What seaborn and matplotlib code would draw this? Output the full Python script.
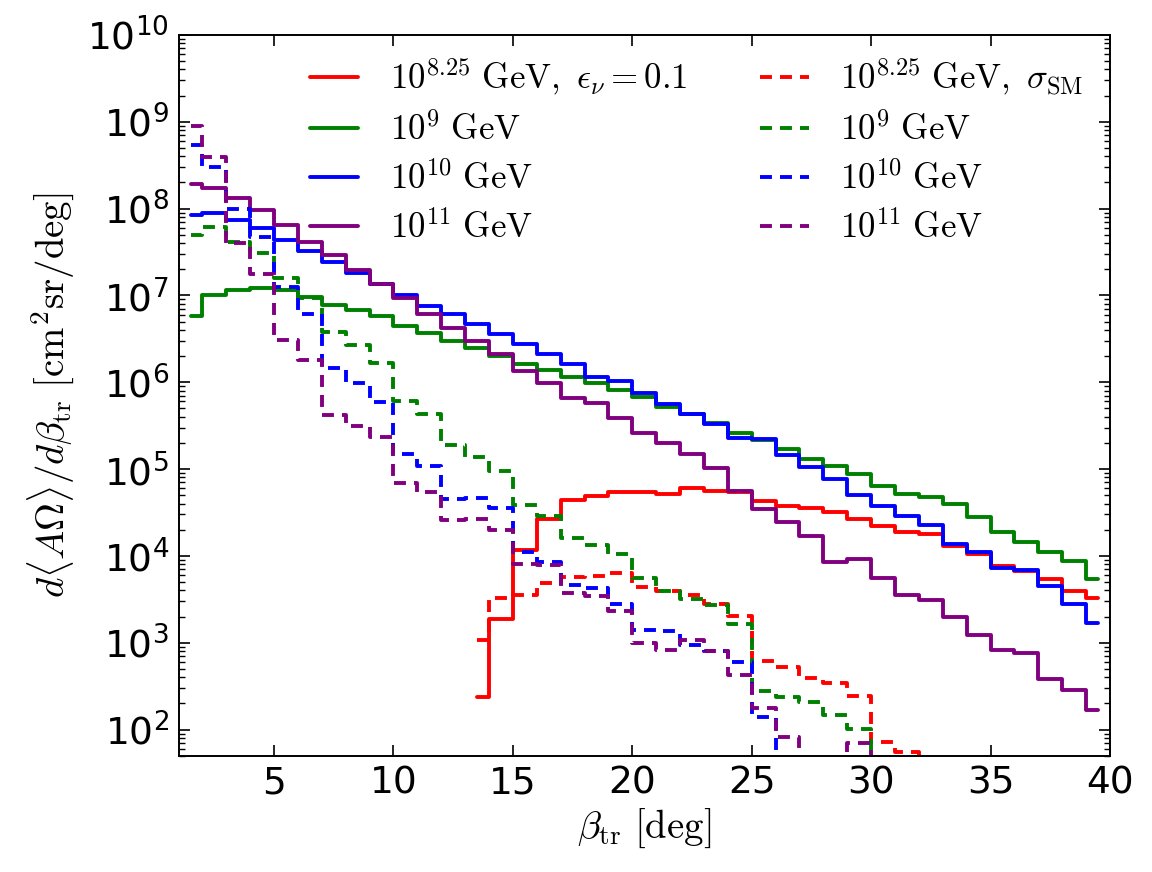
import numpy as np
import matplotlib
matplotlib.use("Agg")
import matplotlib.pyplot as plt
import seaborn as sns
from matplotlib.ticker import FuncFormatter, FixedLocator, MultipleLocator, NullFormatter

# bin centres (deg); each curve is drawn as a mid-step histogram
centers = np.arange(1.5, 40.0, 1.0)

# values, as log10 of d<AΩ>/dβ  (1.3 = below the axis)
# solid: epsilon_nu = 0.1 (first bin of red is at 13.5)
red_solid = [2.38, 3.27, 4.07, 4.42, 4.64, 4.69, 4.73, 4.74, 4.71, 4.78, 4.75, 4.74, 4.63,
             4.57, 4.55, 4.50, 4.43, 4.34, 4.28, 4.25, 4.11, 4.02, 3.88, 3.83, 3.73, 3.60, 3.51]
green_solid = [6.76, 7.01, 7.06, 7.08, 7.06, 6.98, 6.89, 6.83, 6.76, 6.65, 6.57, 6.48, 6.39,
               6.30, 6.21, 6.14, 6.06, 5.99, 5.91, 5.83, 5.72, 5.63, 5.53, 5.42, 5.34, 5.23,
               5.12, 5.04, 4.94, 4.80, 4.71, 4.68, 4.60, 4.45, 4.27, 4.16, 4.04, 3.94, 3.73]
blue_solid = [7.93, 7.95, 7.87, 7.78, 7.64, 7.51, 7.38, 7.26, 7.13, 7.00, 6.88, 6.78, 6.67,
              6.55, 6.44, 6.32, 6.21, 6.06, 6.01, 5.88, 5.75, 5.63, 5.52, 5.36, 5.35, 5.16,
              5.02, 4.89, 4.70, 4.58, 4.46, 4.36, 4.14, 4.04, 3.86, 3.84, 3.65, 3.44, 3.23]
purple_solid = [8.28, 8.24, 8.12, 7.98, 7.81, 7.62, 7.46, 7.29, 7.13, 6.97, 6.79, 6.63, 6.48,
                6.33, 6.13, 5.99, 5.82, 5.76, 5.59, 5.42, 5.30, 5.17, 5.01, 4.75, 4.54, 4.39,
                4.23, 3.93, 3.96, 3.75, 3.55, 3.49, 3.30, 3.09, 2.92, 2.88, 2.58, 2.46, 2.22]

# dashed: sigma_SM (first bin of red is at 13.5)
red_dashed = [3.03, 3.52, 3.55, 3.69, 3.76, 3.77, 3.80, 3.64, 3.59, 3.55, 3.45, 3.31, 2.79,
              2.72, 2.59, 2.54, 2.39, 1.86, 1.74, 1.3, 1.3, 1.3, 1.3, 1.3, 1.3, 1.3, 1.3]
green_dashed = [7.70, 7.79, 7.62, 7.49, 7.20, 6.97, 6.58, 6.43, 6.22, 5.78, 5.63, 5.28, 5.14,
                4.98, 4.59, 4.46, 4.21, 4.13, 4.02, 3.74, 3.59, 3.50, 3.43, 3.22, 2.44, 2.37,
                2.32, 2.17, 2.01, 1.3, 1.3, 1.3, 1.3, 1.3, 1.3, 1.3, 1.3, 1.3, 1.3]
blue_dashed = [8.73, 8.48, 8.00, 7.67, 7.10, 6.78, 6.16, 5.99, 5.77, 5.17, 5.03, 4.66, 4.67,
               4.55, 4.04, 3.93, 3.66, 3.63, 3.44, 3.15, 3.14, 2.97, 2.90, 2.78, 2.15, 1.3,
               1.3, 1.3, 1.3, 1.3, 1.3, 1.3, 1.3, 1.3, 1.3, 1.3, 1.3, 1.3, 1.3]
purple_dashed = [8.95, 8.59, 7.60, 7.25, 6.49, 6.26, 5.62, 5.50, 5.37, 4.84, 4.74, 4.41, 4.42,
                 4.30, 3.91, 3.90, 3.57, 3.54, 3.36, 3.00, 2.92, 3.03, 2.91, 2.63, 2.25, 1.91,
                 1.3, 1.3, 1.84, 1.3, 1.3, 1.3, 1.3, 1.3, 1.3, 1.3, 1.3, 1.3, 1.3]

labels_solid = [r"$10^{8.25}\ \mathrm{GeV},\ \epsilon_\nu = 0.1$", r"$10^{9}\ \mathrm{GeV}$",
                r"$10^{10}\ \mathrm{GeV}$", r"$10^{11}\ \mathrm{GeV}$"]
labels_dashed = [r"$10^{8.25}\ \mathrm{GeV},\ \sigma_\mathrm{SM}$", r"$10^{9}\ \mathrm{GeV}$",
                 r"$10^{10}\ \mathrm{GeV}$", r"$10^{11}\ \mathrm{GeV}$"]
colors = ["#ff0000", "#008000", "#0000ff", "#800080"]
y_decades = np.arange(2, 11)

sns.set_style("ticks")
plt.rcParams.update({
    "font.family": ["DejaVu Sans"],
    "mathtext.fontset": "cm",
    "lines.scale_dashes": False,
    "axes.edgecolor": "black",
    "axes.linewidth": 1.4,
    "text.color": "black",
    "axes.labelcolor": "black",
    "xtick.color": "black",
    "ytick.color": "black",
    "xtick.direction": "in",
    "ytick.direction": "in",
    "xtick.top": True,
    "ytick.right": True,
})

fig = plt.figure(figsize=(11.52, 8.72), dpi=100)
ax = fig.add_axes([0.155, 0.1334, 0.8085, 0.8266])
ax.set_yscale("log")

handles = []
groups = [([red_solid, green_solid, blue_solid, purple_solid], labels_solid, "-"),
          ([red_dashed, green_dashed, blue_dashed, purple_dashed], labels_dashed, (0, (8.6, 5.8)))]
for series, labs, ls in groups:
    for vals, color, lab in zip(series, colors, labs):
        x = centers[len(centers) - len(vals):]
        sns.lineplot(x=x, y=np.power(10.0, vals), color=color, lw=2.8, ls=ls,
                     drawstyle="steps-mid", errorbar=None, ax=ax, label=lab)
        handles.append(ax.lines[-1])

ax.set_xlim(1, 40)
ax.set_ylim(50, 1e10)
ax.xaxis.set_major_locator(MultipleLocator(5))
ax.yaxis.set_major_locator(FixedLocator(10.0 ** y_decades))
minor = [m * 10.0 ** d for d in range(1, 10) for m in range(2, 10) if 50 <= m * 10.0 ** d <= 1e10]
ax.yaxis.set_minor_locator(FixedLocator(minor))
ax.yaxis.set_minor_formatter(NullFormatter())
ax.yaxis.set_major_formatter(FuncFormatter(lambda v, p: r"$\mathregular{10^{%d}}$" % round(np.log10(v))))
ax.tick_params(which="major", length=8, width=1.2, labelsize=27, pad=7)
ax.tick_params(which="minor", length=4, width=1.0)

ax.set_xlabel(r"$\beta_\mathrm{tr}\ [\mathrm{deg}]$", fontsize=28, labelpad=4)
ax.set_ylabel(r"$d\langle A\Omega\rangle/d\beta_\mathrm{tr}\ [\mathrm{cm}^2\mathrm{sr/deg}]$",
              fontsize=28, labelpad=8)

ax.legend(handles=handles, labels=labels_solid + labels_dashed, ncol=2, frameon=False,
          loc="upper left", bbox_to_anchor=(0.141, 0.97), borderpad=0, borderaxespad=0,
          fontsize=25, handlelength=1.4, handletextpad=0.9, columnspacing=2.1,
          labelspacing=0.42)

fig.savefig("out.png", dpi=100)
